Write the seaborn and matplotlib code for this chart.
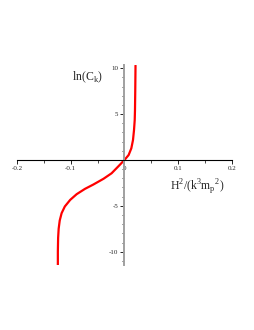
import numpy as np
import pandas as pd
import seaborn as sns
import matplotlib.pyplot as plt
from matplotlib.ticker import MultipleLocator

# curve: x = H^2/(k^3 m_p^2), y = ln(C_k)
h_ratio = [-0.124, -0.124, -0.1235, -0.1225, -0.1205, -0.117, -0.111,
           -0.101, -0.089, -0.0735, -0.058, -0.039, -0.024, -0.0115, 0.0,
           0.0077, 0.0127, 0.0158, 0.0177, 0.019, 0.0195, 0.0200, 0.0205]
ln_ck = [-11.5, -10.0, -8.5, -7.5, -6.6, -5.8, -5.07,
         -4.35, -3.73, -3.15, -2.68, -2.05, -1.45, -0.7, 0.0,
         0.54, 1.27, 2.17, 3.26, 4.35, 5.4, 7.5, 10.3]

x_ticks = [-0.2, -0.1, 0, 0.1, 0.2]
x_labels = ["-0.2", "-0.1", "0", "0.1", "0.2"]
y_ticks = [-10, -5, 5, 10]
y_labels = ["-10", "-5", "5", "10"]

df = pd.DataFrame({"x": h_ratio, "y": ln_ck})

sns.set_style("white")
plt.rcParams["font.family"] = ["Liberation Serif", "DejaVu Serif"]

fig = plt.figure(figsize=(2.55, 3.3), dpi=100)
ax = fig.add_axes([17 / 255, 1 - 265 / 330, 215 / 255, 200 / 330])

# estimator=None so repeated x values are not averaged
sns.lineplot(data=df, x="x", y="y", sort=False, estimator=None,
             color="red", linewidth=1.6, ax=ax)

ax.set_xlim(-0.2, 0.2)
ax.set_ylim(-11.45, 10.35)

for s in ["top", "right"]:
    ax.spines[s].set_visible(False)
ax.spines["bottom"].set_position(("data", 0))
ax.spines["left"].set_position(("data", 0))
ax.spines["bottom"].set_color("black")
ax.spines["bottom"].set_linewidth(0.8)
ax.spines["left"].set_color("#a0a0a0")
ax.spines["left"].set_linewidth(1.4)

ax.set_xticks(x_ticks)
ax.set_xticklabels(x_labels)
ax.set_yticks(y_ticks)
ax.set_yticklabels(y_labels)
ax.xaxis.set_minor_locator(MultipleLocator(0.05))
ax.yaxis.set_minor_locator(MultipleLocator(1))
ax.tick_params(axis="both", which="major", labelsize=5, length=3,
               width=0.6, pad=1.5, direction="out", color="black",
               bottom=True, left=True)
ax.tick_params(axis="both", which="minor", length=1.8, width=0.5,
               direction="out", color="black", bottom=True, left=True)
ax.set_xlabel("")
ax.set_ylabel("")
ax.grid(False)

fig.text(87 / 255, 1 - 77 / 330, r"ln(C$_\mathregular{k}$)", fontsize=8.5,
         ha="center", va="center")
fig.text(197 / 255, 1 - 187 / 330,
         r"H$^\mathregular{2}$/(k$^\mathregular{3}$m$_\mathregular{p}$$^\mathregular{2}$)",
         fontsize=8.5, ha="center", va="center")

fig.savefig("out.png", dpi=100)
